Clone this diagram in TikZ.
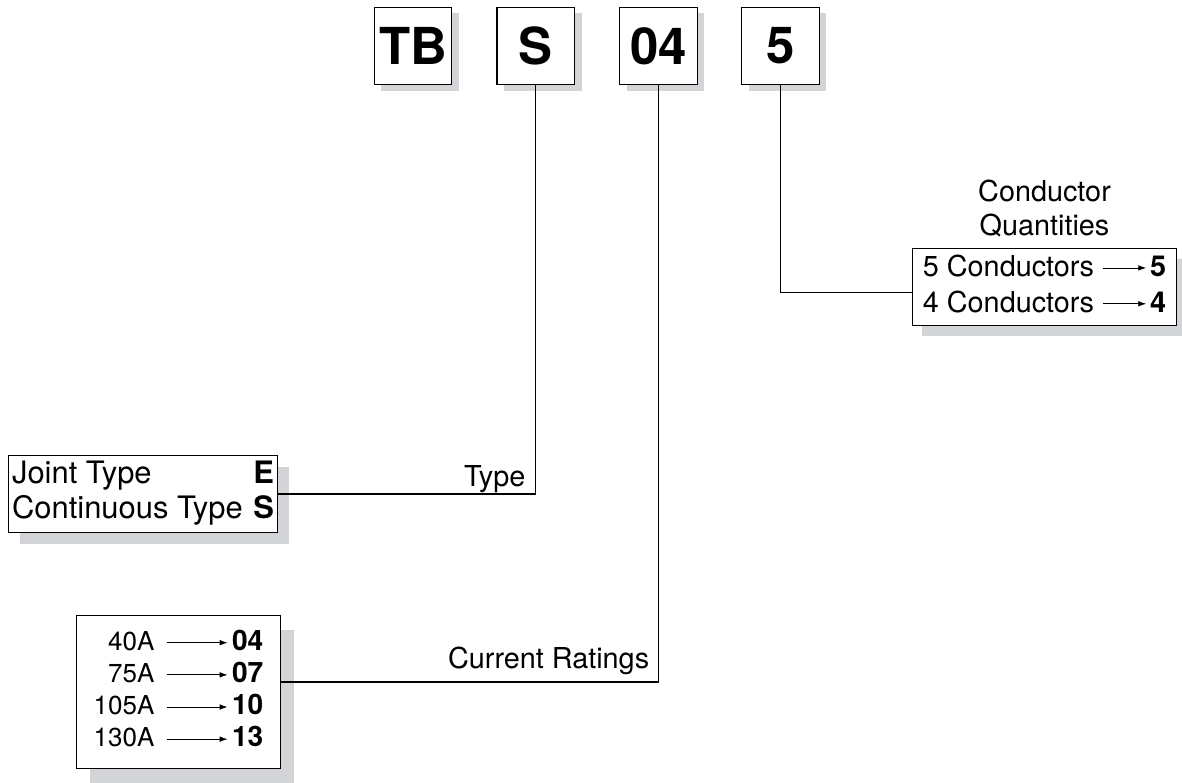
\documentclass[tikz,border=0pt]{standalone}
\usepackage{fontspec}
\setmainfont{TeX Gyre Heros}
\usetikzlibrary{positioning,shadows,arrows.meta}
\definecolor{shadowgray}{RGB}{211,212,216}
\newcommand{\codearrow}[1]{\tikz[baseline=-0.55ex]\draw[line width=0.5pt,-{Latex[length=4.5pt,width=3.2pt]}] (0,0) -- (#1,0);}

\begin{document}
\begin{tikzpicture}[x=0.02cm,y=-0.02cm,
  codebox/.style={draw,line width=0.7pt,fill=white,minimum width=44.2pt,minimum height=44.2pt,inner sep=0pt,
    font=\fontsize{29}{29}\selectfont\bfseries,
    drop shadow={shadow xshift=4pt,shadow yshift=-3.5pt,fill=shadowgray,opacity=1}},
  legendbox/.style={draw,line width=0.7pt,fill=white,inner sep=0pt},
  lbl/.style={inner sep=0pt,font=\fontsize{16.4}{19.3}\selectfont},
  link/.style={line width=0.6pt}]
\useasboundingbox (0,0) rectangle (1182,783);

% code boxes
\node[codebox] (tb) at (413,46) {TB};
\node[codebox,right=25pt of tb] (s) {S};
\node[codebox,right=25pt of s] (n04) {04};
\node[codebox,right=24.5pt of n04] (n5) {5};

% legends
\node[legendbox,minimum width=153pt,minimum height=44.2pt,font=\fontsize{17.6}{19.8}\selectfont,
  drop shadow={shadow xshift=6.5pt,shadow yshift=-6.5pt,fill=shadowgray,opacity=1}] (typebox) at (143,494)
  {\begin{tabular}{@{}l@{\hskip 6pt}r@{}}Joint Type & \textbf{E}\\ Continuous Type & \textbf{S}\end{tabular}};
\node[legendbox,minimum width=116pt,minimum height=87.3pt,font=\fontsize{14.8}{18.3}\selectfont,
  drop shadow={shadow xshift=7.7pt,shadow yshift=-8.5pt,fill=shadowgray,opacity=1}] (ratebox) at (178.5,692)
  {\begin{tabular}{@{}r@{\hskip 6.8pt}c@{\hskip 2.3pt}l@{}}
    40A & \codearrow{34.6pt} & \textbf{\fontsize{16}{18.3}\selectfont 04}\\
    75A & \codearrow{34.6pt} & \textbf{\fontsize{16}{18.3}\selectfont 07}\\
    105A & \codearrow{34.6pt} & \textbf{\fontsize{16}{18.3}\selectfont 10}\\
    130A & \codearrow{34.6pt} & \textbf{\fontsize{16}{18.3}\selectfont 13}
  \end{tabular}};
\node[legendbox,minimum width=150pt,minimum height=44.2pt,font=\fontsize{16.4}{20.4}\selectfont,
  drop shadow={shadow xshift=5pt,shadow yshift=-6pt,fill=shadowgray,opacity=1}] (qtybox) at (1044.5,287)
  {\begin{tabular}{@{}l@{\hskip 5pt}c@{\hskip 2pt}l@{}}
    5 Conductors & \codearrow{24.4pt} & \textbf{5}\\
    4 Conductors & \codearrow{24.4pt} & \textbf{4}
  \end{tabular}};
\node[lbl,align=center,above=6pt of qtybox] (qtytitle) {Conductor\\Quantities};

% connectors
\draw[link] (s.south) |- node[lbl,pos=0.5,anchor=base east,xshift=-5.7pt,yshift=4.5pt] {Type} (typebox.east);
\draw[link] (n04.south) |- node[lbl,pos=0.5,anchor=base east,xshift=-5.1pt,yshift=7.4pt] {Current Ratings} ([yshift=5.7pt]ratebox.east);
\draw[link] (n5.south) |- ([yshift=-3.4pt]qtybox.west);
\end{tikzpicture}
\end{document}
